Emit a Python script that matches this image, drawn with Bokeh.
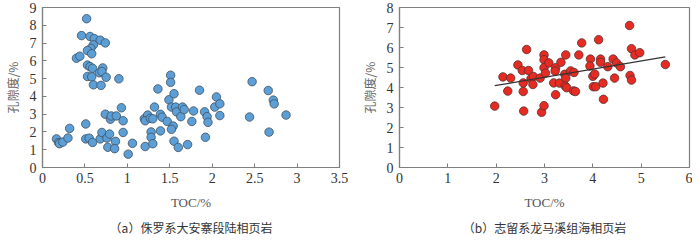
from bokeh.plotting import figure
from bokeh.layouts import row
from bokeh.models import Range1d, FixedTicker, Title
from bokeh.embed import file_html
from bokeh.resources import INLINE

# ---- data: panel (a) Jurassic Da'anzhai continental shale ----
toc_a = [0.52, 0.46, 0.56, 0.61, 0.68, 0.74, 0.60, 0.57, 0.53, 0.58, 0.40, 0.44,
         0.53, 0.56, 0.59, 0.71, 0.67, 0.70, 0.53, 0.58, 0.75, 0.90, 0.60, 0.69,
         0.165, 0.19, 0.20, 0.24, 0.30, 0.32, 0.51, 0.51, 0.55, 0.59, 0.68, 0.70,
         0.74, 0.76, 0.79, 0.80, 0.81, 0.77, 0.87, 0.86, 0.85, 0.93, 0.95, 0.95,
         1.01, 1.06, 1.20, 1.24, 1.21, 1.21, 1.27, 1.30, 1.32, 1.36, 1.39, 1.28,
         1.28, 1.30, 1.39, 1.41, 1.47, 1.49, 1.51, 1.51, 1.52, 1.55, 1.54, 1.52,
         1.55, 1.57, 1.58, 1.60, 1.63, 1.65, 1.67, 1.71, 1.76, 1.78, 1.85, 1.91,
         1.94, 1.95, 1.92, 2.05, 2.03, 2.09, 2.09, 2.47, 2.44, 2.66, 2.72, 2.73,
         2.67, 2.87]
por_a = [8.37, 7.42, 7.37, 7.25, 7.16, 7.01, 6.90, 6.70, 6.58, 6.40, 6.15, 6.26,
         5.76, 5.67, 5.58, 5.60, 5.33, 5.40, 5.12, 5.10, 5.08, 4.99, 4.65, 4.62,
         1.61, 1.40, 1.34, 1.43, 1.66, 2.20, 2.45, 1.61, 1.65, 1.41, 1.61, 1.97,
         3.00, 1.66, 1.88, 2.72, 2.90, 1.14, 2.90, 1.47, 1.06, 3.36, 2.63, 1.97,
         0.75, 1.36, 2.74, 2.95, 2.63, 1.18, 2.77, 2.74, 3.40, 4.42, 2.99, 2.00,
         1.70, 1.34, 2.06, 2.83, 2.59, 3.81, 5.19, 4.79, 3.40, 4.15, 2.33, 2.15,
         1.48, 3.40, 3.13, 1.13, 2.86, 3.40, 3.26, 1.29, 2.59, 3.18, 4.35, 3.13,
         2.86, 2.54, 1.70, 3.97, 3.40, 3.58, 2.92, 4.83, 2.84, 4.33, 3.79, 3.58,
         1.99, 2.95]

# ---- data: panel (b) Silurian Longmaxi marine shale ----
toc_b = [1.97, 2.14, 2.30, 2.24, 2.45, 2.54, 2.67, 2.63, 2.56, 2.56, 2.57, 2.72,
         2.77, 2.76, 2.91, 2.94, 2.99, 2.99, 2.99, 3.02, 2.99, 3.09, 3.23, 3.22,
         3.19, 3.31, 3.23, 3.34, 3.44, 3.42, 3.44, 3.43, 3.46, 3.54, 3.61, 3.60,
         3.64, 3.71, 3.77, 3.95, 3.94, 4.00, 4.04, 4.01, 4.06, 4.12, 4.16, 4.16,
         4.31, 4.21, 4.22, 4.42, 4.49, 4.57, 4.45, 4.76, 4.80, 4.87, 4.97, 4.77,
         4.80, 5.50]
por_b = [3.07, 4.53, 4.47, 3.82, 5.13, 4.85, 4.85, 5.90, 4.23, 3.80, 2.82, 4.44,
         4.55, 4.15, 4.47, 2.76, 5.63, 5.39, 4.99, 4.72, 3.09, 5.23, 4.99, 4.82,
         4.23, 4.22, 3.64, 5.26, 5.63, 4.66, 4.47, 4.07, 3.99, 4.83, 4.75, 3.83,
         3.80, 5.63, 6.23, 5.42, 5.07, 4.56, 4.67, 4.04, 4.04, 6.39, 5.42, 5.26,
         5.04, 4.22, 3.41, 5.42, 5.23, 5.04, 4.47, 7.10, 5.94, 5.63, 5.74, 4.60,
         4.37, 5.15]
trend_x_b = [1.97, 5.50]
trend_y_b = [4.09, 5.53]

# ---- ticks and labels ----
xticks_a = [0, 0.5, 1, 1.5, 2, 2.5, 3, 3.5]
xlabels_a = ["0", "0.5", "1", "1.5", "2", "2.5", "3", "3.5"]
yticks_a = [0, 1, 2, 3, 4, 5, 6, 7, 8, 9]
xticks_b = [0, 1, 2, 3, 4, 5, 6]
yticks_b = [0, 1, 2, 3, 4, 5, 6, 7, 8]
xlabel = "TOC/%"
ylabel = "孔隙度/%"
caption_a = "（a）侏罗系大安寨段陆相页岩"
caption_b = "（b）志留系龙马溪组海相页岩"

SERIF = "Liberation Serif"
CJK = "Noto Sans CJK SC"
AX = "#7f7f7f"


def make_panel(fw, border_left, border_right, xr, yr, xt, xl, yt, caption):
    p = figure(frame_width=fw, frame_height=160, output_backend="svg",
               toolbar_location=None,
               x_range=Range1d(*xr), y_range=Range1d(*yr),
               min_border_left=border_left, min_border_right=border_right,
               min_border_top=7, min_border_bottom=0)
    p.background_fill_color = "white"
    p.border_fill_color = "white"
    p.outline_line_color = AX
    p.outline_line_width = 1.2
    p.xgrid.visible = False
    p.ygrid.visible = False
    for ax in (p.xaxis[0], p.yaxis[0]):
        ax.axis_line_color = AX
        ax.axis_line_width = 1.2
        ax.major_tick_line_color = AX
        ax.major_tick_in = 4
        ax.major_tick_out = 0
        ax.minor_tick_line_color = None
        ax.major_label_text_font = SERIF
        ax.major_label_text_font_size = "14px"
        ax.major_label_text_color = "#333333"
    p.xaxis[0].ticker = FixedTicker(ticks=xt)
    p.xaxis[0].major_label_overrides = {t: l for t, l in zip(xt, xl)}
    p.xaxis[0].major_label_standoff = 5
    p.yaxis[0].ticker = FixedTicker(ticks=yt)
    p.yaxis[0].major_label_overrides = {t: str(t) for t in yt}
    p.yaxis[0].major_label_standoff = 6
    p.xaxis[0].axis_label = xlabel
    p.xaxis[0].axis_label_text_font = SERIF
    p.xaxis[0].axis_label_text_font_style = "normal"
    p.xaxis[0].axis_label_text_font_size = "13px"
    p.xaxis[0].axis_label_text_color = "#555555"
    p.xaxis[0].axis_label_standoff = 9
    p.yaxis[0].axis_label = ylabel
    p.yaxis[0].axis_label_text_font = CJK
    p.yaxis[0].axis_label_text_font_style = "normal"
    p.yaxis[0].axis_label_text_font_size = "12px"
    p.yaxis[0].axis_label_text_color = "#666666"
    p.yaxis[0].axis_label_standoff = 6
    t = Title(text=caption, align="center", text_font=CJK, text_font_size="12px",
              text_font_style="normal", text_color="#333333", standoff=8)
    p.add_layout(t, "below")
    return p


pa = make_panel(297, 32, 12, (0, 3.5), (0, 9), xticks_a, xlabels_a, yticks_a, caption_a)
pa.scatter(toc_a, por_a, size=8.5, fill_color="#5B9FD6", line_color="#3f4f5f",
           line_width=0.8)

pb = make_panel(290, 48, 3, (0, 6), (0, 8), xticks_b, [str(t) for t in xticks_b],
                yticks_b, caption_b)
pb.scatter(toc_b, por_b, size=8.5, fill_color="#E62B22", line_color="#5a3030",
           line_width=0.8)
pb.line(trend_x_b, trend_y_b, line_color="#333333", line_width=1.2)

layout = row(pa, pb)
open("out.html", "w").write(file_html(layout, INLINE))
